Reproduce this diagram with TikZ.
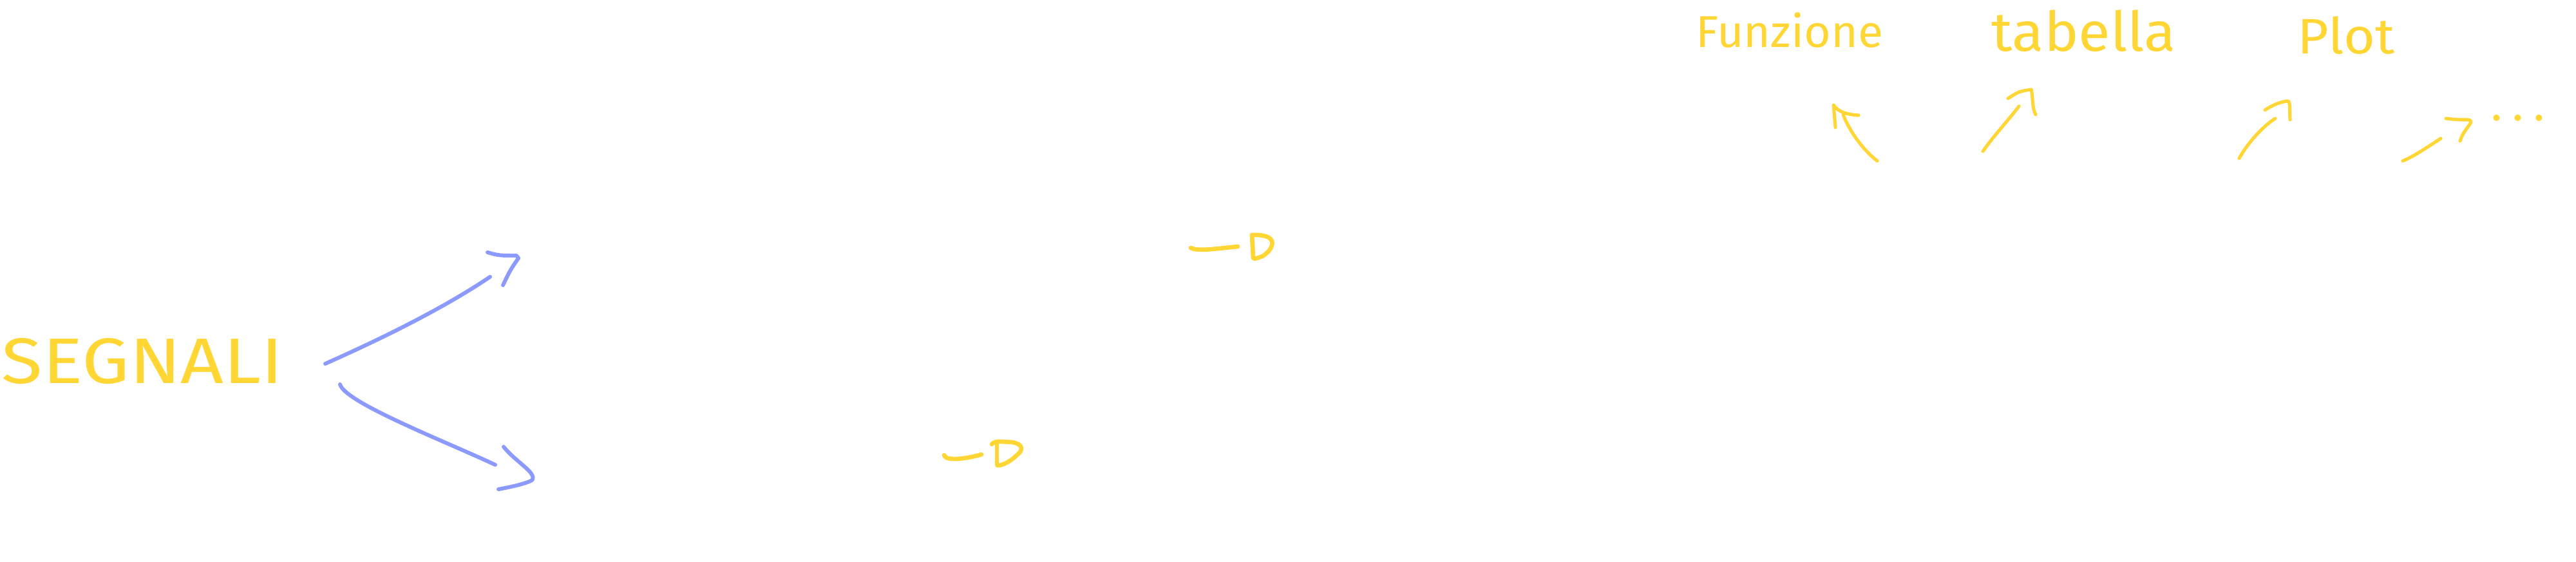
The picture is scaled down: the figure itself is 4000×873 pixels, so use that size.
\documentclass[tikz,border=0pt]{standalone}
\usepackage{fontspec}
\setmainfont{Fira Sans}
\definecolor{penyellow}{HTML}{FFD633}
\definecolor{penblue}{HTML}{8C9AFF}
\begin{document}
\begin{tikzpicture}[x=0.01cm,y=-0.01cm,
  bluepen/.style={draw=penblue,line width=1.7pt,line cap=round,line join=round},
  yelpen/.style={draw=penyellow,line width=1.9pt,line cap=round,line join=round},
  yelthin/.style={draw=penyellow,line width=1.45pt,line cap=round,line join=round},
  label/.style={anchor=south west,inner sep=0pt,text=penyellow}]
\useasboundingbox (0,0) rectangle (4000,873);
\fill[white] (0,0) rectangle (4000,873);

% texts
\node[label] (segnali) at (2,597) {\resizebox{4.37cm}{0.70cm}{\fontsize{26}{26}\selectfont SEGNALI}};
\node[label] (funzione) at (2633,75) {\resizebox{2.90cm}{0.54cm}{\fontsize{22}{22}\selectfont Funzione}};
\node[label] (tabella) at (3092,81) {\resizebox{2.86cm}{0.64cm}{\fontsize{22}{22}\selectfont tabella}};
\node[label] (plot) at (3567,85) {\resizebox{1.51cm}{0.58cm}{\fontsize{22}{22}\selectfont Plot}};
\node[label,anchor=base west] (dots) at (3868,188) {\fontsize{20}{20}\selectfont .\hspace{0.16cm}.\hspace{0.16cm}.};

% blue arrows from SEGNALI
\coordinate (u0) at (505,565);
\coordinate (u1) at (761,430);
\coordinate (l0) at (528,597);
\coordinate (l1) at (769,722);
\draw[bluepen] (u0) .. controls (595,525) and (690,478) .. (u1);
\draw[bluepen] (757,392) .. controls (775,397) .. (802,397) -- (805,401) .. controls (792,420) .. (781,443);
\draw[bluepen] (l0) .. controls (535,625) and (690,685) .. (l1);
\draw[bluepen] (782,694) .. controls (800,717) and (835,735) .. (826,746) .. controls (815,752) and (790,757) .. (774,760);

% upper yellow -D
\coordinate (d1a) at (1849,385);
\coordinate (d1b) at (1922,383);
\draw[yelpen] (d1a) .. controls (1860,391) and (1890,386) .. (d1b);
\draw[yelpen] (1944,366) -- (1946,401);
\draw[yelpen] (1944,365) .. controls (1970,364) and (1984,372) .. (1970,390) .. controls (1962,398) .. (1948,402);

% lower yellow -D
\coordinate (d2a) at (1466,707);
\coordinate (d2b) at (1524,706);
\draw[yelpen] (d2a) .. controls (1468,716) and (1495,714) .. (d2b);
\draw[yelpen] (1548,688) -- (1548,722);
\draw[yelpen] (1540,690) .. controls (1545,686) .. (1556,686) -- (1572,687) .. controls (1590,690) and (1588,700) .. (1580,706) .. controls (1570,716) and (1558,723) .. (1549,723);

% arrows towards the top labels
\coordinate (fa0) at (2915,250);
\coordinate (fa1) at (2862,178);
\draw[yelthin] (fa0) .. controls (2895,235) and (2872,205) .. (fa1);
\draw[yelthin] (2850,198) -- (2847,163) .. controls (2855,175) and (2870,178) .. (2886,179);

\coordinate (ta0) at (3079,235);
\coordinate (ta1) at (3135,165);
\draw[yelthin] (ta0) .. controls (3095,212) and (3120,185) .. (ta1);
\draw[yelthin] (3118,153) .. controls (3135,142) .. (3154,139) .. controls (3157,150) and (3155,168) .. (3161,178);

\coordinate (pa0) at (3477,246);
\coordinate (pa1) at (3533,184);
\draw[yelthin] (pa0) .. controls (3490,222) and (3515,195) .. (pa1);
\draw[yelthin] (3517,171) .. controls (3528,163) and (3545,157) .. (3553,157) .. controls (3557,160) and (3555,175) .. (3556,186);

\coordinate (ea0) at (3731,250);
\coordinate (ea1) at (3790,215);
\draw[yelthin] (ea0) .. controls (3750,242) and (3770,228) .. (ea1);
\draw[yelthin] (3798,184) .. controls (3815,186) .. (3833,186) .. controls (3845,188) and (3825,200) .. (3820,219);
\end{tikzpicture}
\end{document}
